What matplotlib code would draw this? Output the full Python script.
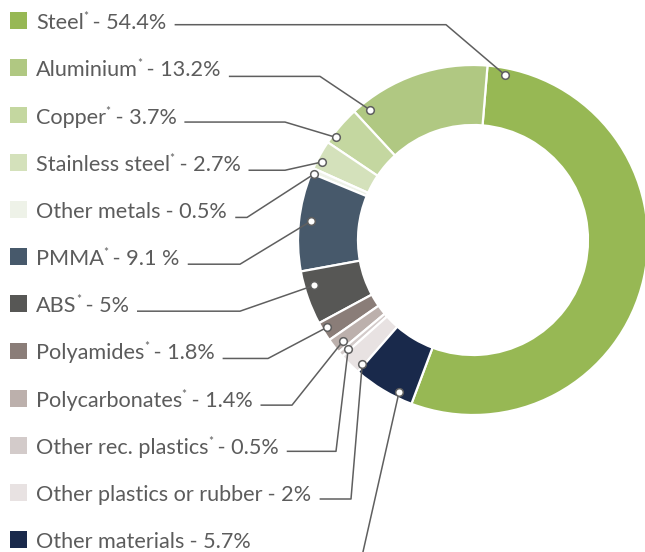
import matplotlib.pyplot as plt
import numpy as np

materials = ["Steel", "Aluminium", "Copper", "Stainless steel", "Other metals",
             "PMMA", "ABS", "Polyamides", "Polycarbonates", "Other rec. plastics",
             "Other plastics or rubber", "Other materials"]
starred = [True, True, True, True, False, True, True, True, True, True, False, False]
shares = [54.4, 13.2, 3.7, 2.7, 0.5, 9.1, 5, 1.8, 1.4, 0.5, 2, 5.7]
share_text = ["54.4%", "13.2%", "3.7%", "2.7%", "0.5%", "9.1 %", "5%",
              "1.8%", "1.4%", "0.5%", "2%", "5.7%"]
colors = ["#97b854", "#b0c882", "#c4d7a0", "#d4e1bb", "#eef2e8", "#47596b",
          "#575755", "#8a7d78", "#bcb0ac", "#d3cbca", "#e8e2e2", "#19294b"]

# leader line layout (pixels): where on the wedge, where the elbow sits
anchor_t = [0.968, 0.908, 0.78, 0.68, 0.9, 0.48, 0.31, 0.39, 0.59, 0.75, 0.9, 0.74]
anchor_r = [168, 166, 171, 170, 172, 163, 165, 170, 164, 166, 166, 169]
elbow_x = [446, 320, 285, 285, 247, 240, 240, 268, 292, 336, 351, 361]
line_drop = [4, 8.5, 7, 8, 8, 7.6, 7.4, 7.5, 7, 6, 6.5, 21]

W, H = 645, 552
TXT = "#5c5c5c"
LINE = "#5f5f5f"
plt.rcParams['font.family'] = ['Lato', 'DejaVu Sans']

fig = plt.figure(figsize=(W / 100, H / 100), dpi=100)
ax = fig.add_axes([0, 0, 1, 1])

cx, cy = 473, H - 240
wedges, _ = ax.pie(shares, colors=colors, startangle=-110.6, counterclock=True,
                   radius=175, center=(cx, cy),
                   wedgeprops=dict(width=60, edgecolor='white', linewidth=1.6))
ax.set_xlim(0, W)
ax.set_ylim(0, H)
ax.set_aspect('equal')
ax.axis('off')

renderer = fig.canvas.get_renderer()
inv = ax.transData.inverted()


def right_edge(t):
    bb = t.get_window_extent(renderer=renderer)
    return inv.transform((bb.x1, bb.y0))[0]


fs = 15.6
for i, name in enumerate(materials):
    row = 20.7 + 47.18 * i
    yb = H - (row + 8.5)
    ax.add_patch(plt.Rectangle((10, H - row - 8.4), 16.8, 16.8,
                               color=colors[i], lw=0))
    t = ax.text(36, yb, name, fontsize=fs, color=TXT, va='baseline')
    x = right_edge(t)
    if starred[i]:
        s = ax.text(x - 0.5, yb + 9, "*", fontsize=8.5, color=TXT, va='baseline')
        x = right_edge(s) - 1
    t = ax.text(x, yb, " - " + share_text[i], fontsize=fs, color=TXT, va='baseline')
    x_end = right_edge(t)

    w = wedges[i]
    ang = np.deg2rad(w.theta1 + anchor_t[i] * (w.theta2 - w.theta1))
    ax_x = cx + anchor_r[i] * np.cos(ang)
    ax_y = cy + anchor_r[i] * np.sin(ang)
    ly = H - (row + line_drop[i])
    ax.plot([x_end + 8, elbow_x[i], ax_x], [ly, ly, ax_y], color=LINE, lw=1.1,
            solid_capstyle='butt', zorder=3)
    ax.plot([ax_x], [ax_y], 'o', ms=5.5, mfc='white', mec=LINE, mew=1.1, zorder=4)

fig.savefig("out.png", dpi=100)
